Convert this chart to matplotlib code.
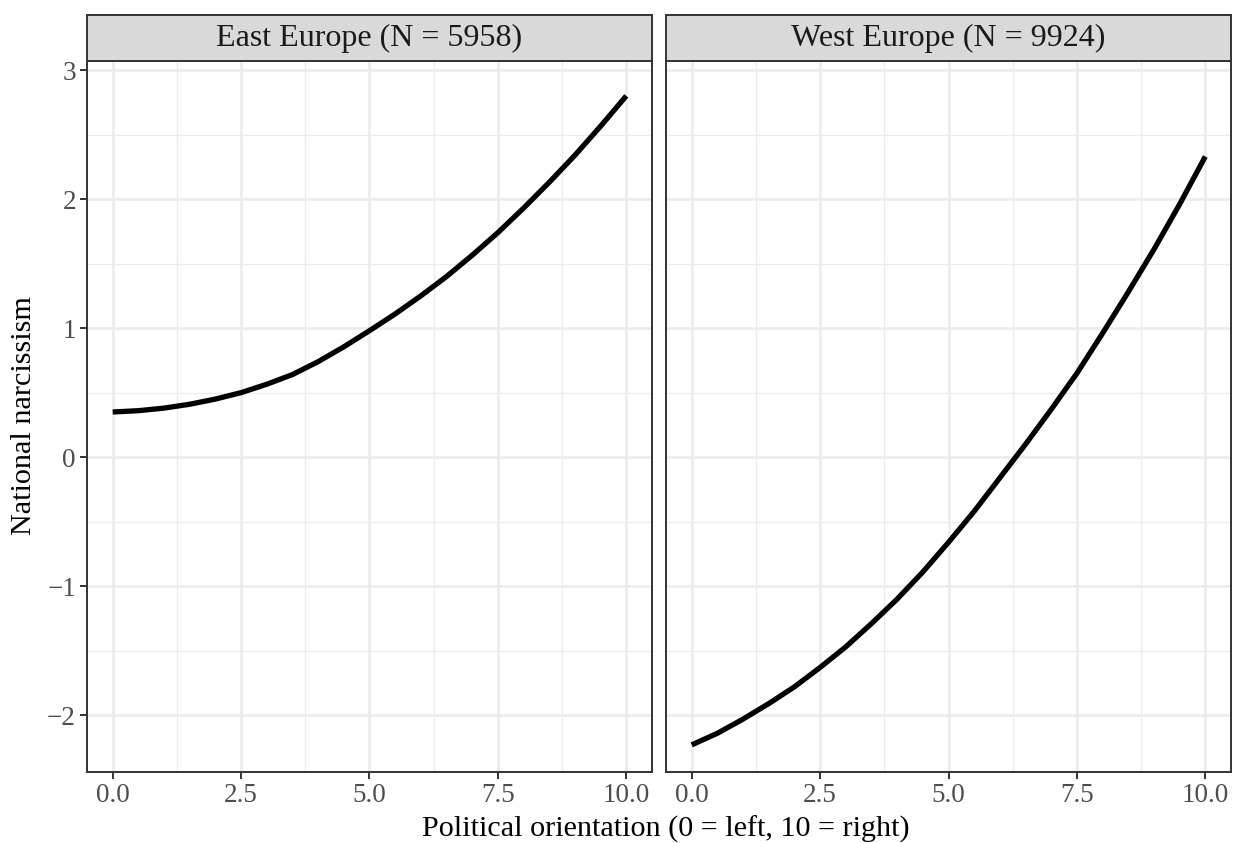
import numpy as np
import matplotlib
matplotlib.use("Agg")
from matplotlib import pyplot as plt

# political orientation (0 = left, 10 = right), in half steps
orientation = [0.0, 0.5, 1.0, 1.5, 2.0, 2.5, 3.0, 3.5, 4.0, 4.5, 5.0,
               5.5, 6.0, 6.5, 7.0, 7.5, 8.0, 8.5, 9.0, 9.5, 10.0]
# predicted national narcissism
east = [0.35, 0.36, 0.38, 0.41, 0.45, 0.50, 0.565, 0.64, 0.74, 0.855, 0.98,
        1.11, 1.25, 1.40, 1.565, 1.74, 1.93, 2.13, 2.34, 2.565, 2.80]
west = [-2.23, -2.14, -2.03, -1.91, -1.78, -1.63, -1.47, -1.29, -1.10, -0.89, -0.66,
        -0.42, -0.16, 0.10, 0.37, 0.65, 0.96, 1.28, 1.61, 1.96, 2.33]
panels = ["East Europe (N = 5958)", "West Europe (N = 9924)"]
x_ticks = [0.0, 2.5, 5.0, 7.5, 10.0]
y_ticks = [-2, -1, 0, 1, 2, 3]

plt.rcParams["font.family"] = ["Liberation Serif", "DejaVu Serif"]

W, H = 1236, 843
fig = plt.figure(figsize=(W / 100, H / 100), dpi=100)
fig.patch.set_facecolor("white")

def rect(x0, y0, x1, y1):
    return [x0 / W, 1 - y1 / H, (x1 - x0) / W, (y1 - y0) / H]

dark = "#333333"
panel_px = [(87, 652), (666, 1231)]

for i, (title, vals) in enumerate(zip(panels, [east, west])):
    x0, x1 = panel_px[i]
    ax = fig.add_axes(rect(x0, 61, x1, 772))
    ax.set_xlim(-0.5, 10.5)
    ax.set_ylim(-2.44, 3.07)
    ax.set_xticks(x_ticks)
    ax.set_xticklabels([f"{t:.1f}" for t in x_ticks])
    ax.set_yticks(y_ticks)
    ax.set_yticklabels([str(t).replace("-", "\u2212") for t in y_ticks])
    ax.set_xticks([1.25, 3.75, 6.25, 8.75], minor=True)
    ax.set_yticks([-1.5, -0.5, 0.5, 1.5, 2.5], minor=True)
    ax.grid(which="major", color="#EBEBEB", linewidth=1.8)
    ax.grid(which="minor", color="#EBEBEB", linewidth=0.9)
    ax.set_axisbelow(True)
    ax.tick_params(which="major", length=5, width=1.4, color=dark,
                   labelsize=19.5, labelcolor="#4D4D4D", pad=3)
    ax.tick_params(which="minor", length=0)
    if i == 1:
        ax.tick_params(axis="y", which="both", length=0, labelleft=False)
    for s in ax.spines.values():
        s.set_color(dark)
        s.set_linewidth(1.4)
    ax.plot(orientation, vals, color="black", linewidth=3.8,
            solid_capstyle="butt")

    sax = fig.add_axes(rect(x0, 15, x1, 61))
    sax.set_facecolor("#D9D9D9")
    sax.set_xticks([])
    sax.set_yticks([])
    for s in sax.spines.values():
        s.set_color(dark)
        s.set_linewidth(1.4)
    sax.text(0.5, 0.5, title, ha="center", va="center", fontsize=23,
             color="#1A1A1A", transform=sax.transAxes)

fig.text(666 / W, 1 - 829 / H, "Political orientation (0 = left, 10 = right)",
         ha="center", va="center", fontsize=21.7)
fig.text(24 / W, 1 - 416 / H, "National narcissism", ha="center",
         va="center", rotation=90, fontsize=21.7)

fig.savefig("out.png", dpi=100)
